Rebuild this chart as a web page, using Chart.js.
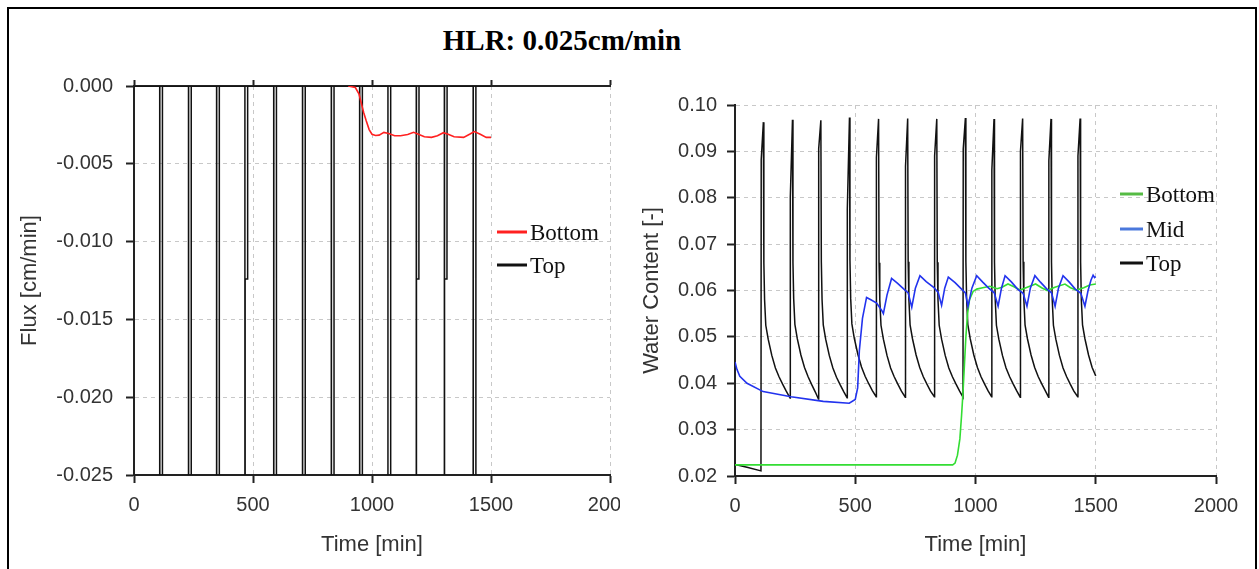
<!DOCTYPE html>
<html>
<head>
<meta charset="utf-8">
<script src="https://cdn.jsdelivr.net/npm/chart.js@4.4.1/dist/chart.umd.min.js"></script>
<style>
  body { margin: 0; background: #fff; }
  #frame { position: absolute; left: 7px; top: 7px; width: 1246px; height: 600px; border: 2px solid #000; }
  #title { position: absolute; left: 0; top: 26px; width: 1124px; text-align: center;
           font: bold 29px "Liberation Serif", "Times New Roman", serif; line-height: 29px; color: #000; }
  #fluxChart { position: absolute; left: 0; top: 0; }
  #wcChart { position: absolute; left: 620px; top: 0; }
</style>
</head>
<body>
<div id="frame"></div>
<div id="title">HLR: 0.025cm/min</div>
<canvas id="fluxChart" width="620" height="569"></canvas>
<canvas id="wcChart" width="639" height="569"></canvas>
<script>
// time [min] / value pairs
const fluxBottom = [
    [900, 0], [930, -0.0001], [945, -0.0005], [955, -0.0011], [965, -0.0017], [975, -0.0022],
    [988, -0.0028], [1000, -0.0031], [1015, -0.00318], [1030, -0.00316], [1050, -0.00298],
    [1070, -0.00305], [1095, -0.0032], [1120, -0.0032], [1150, -0.00312], [1175, -0.00298],
    [1195, -0.0031], [1220, -0.00326], [1250, -0.0033], [1275, -0.0032], [1300, -0.003],
    [1320, -0.0031], [1345, -0.00326], [1385, -0.0033], [1410, -0.0031], [1430, -0.00293],
    [1455, -0.0031], [1480, -0.0033], [1500, -0.0033]
];

const fluxTop = [
    [0, 0],
    [108, 0], [108.5, -0.27], [119, -0.27], [119.5, 0],
    [229, 0], [229.5, -0.27], [240, -0.27], [240.5, 0],
    [347, 0], [347.5, -0.27], [358, -0.27], [358.5, 0],
    [466, 0], [466.5, -0.27], [467, -0.0124], [477, -0.0124], [477.5, 0],
    [587, 0], [587.5, -0.27], [598, -0.27], [598.5, 0],
    [708, 0], [708.5, -0.27], [719, -0.27], [719.5, 0],
    [829, 0], [829.5, -0.27], [840, -0.27], [840.5, 0],
    [948, 0], [948.5, -0.27], [959, -0.27], [959.5, 0],
    [1067, 0], [1067.5, -0.27], [1078, -0.27], [1078.5, 0],
    [1186, 0], [1186.5, -0.27], [1187, -0.0124], [1197, -0.0124], [1197.5, 0],
    [1304, 0], [1304.5, -0.27], [1305, -0.0124], [1315, -0.0124], [1315.5, 0],
    [1425, 0], [1425.5, -0.27], [1436, -0.27], [1436.5, 0],
    [1500, 0]
];

const wcBottom = [
    [0, 0.0224], [300, 0.0224], [600, 0.0224], [905, 0.0224], [915, 0.0228], [925, 0.0245],
    [935, 0.028], [942, 0.033], [948, 0.038], [954, 0.044], [960, 0.05], [967, 0.055],
    [975, 0.058], [990, 0.0598], [1005, 0.0603], [1030, 0.0606], [1060, 0.0609], [1090, 0.0604],
    [1110, 0.0607], [1135, 0.0614], [1160, 0.0608], [1185, 0.0601], [1215, 0.0607], [1250, 0.0614],
    [1275, 0.0606], [1298, 0.06], [1330, 0.0607], [1372, 0.0614], [1395, 0.0606], [1420, 0.0601],
    [1450, 0.0606], [1475, 0.0612], [1500, 0.0614]
];

const wcMid = [
    [0, 0.0446], [8, 0.043], [20, 0.0415], [50, 0.04], [117, 0.0382], [233, 0.0371], [367, 0.0361],
    [475, 0.0357], [500, 0.0365], [510, 0.039], [517, 0.047], [530, 0.054], [547, 0.0585],
    [565, 0.058], [589, 0.0573], [610, 0.0557], [617, 0.055], [632, 0.059], [651, 0.0626],
    [675, 0.0616], [700, 0.0604], [720, 0.0595], [735, 0.0564], [750, 0.0605], [769, 0.0632],
    [795, 0.0619], [826, 0.0607], [845, 0.0596], [859, 0.0568], [872, 0.0605], [887, 0.0629],
    [915, 0.0617], [940, 0.0604], [958, 0.0595], [969, 0.0566], [985, 0.0605], [1005, 0.0632],
    [1030, 0.0618], [1055, 0.0605], [1078, 0.0595], [1094, 0.0566], [1108, 0.0605], [1123, 0.0632],
    [1150, 0.0618], [1175, 0.0603], [1198, 0.0594], [1214, 0.0566], [1228, 0.0605], [1247, 0.0632],
    [1270, 0.0618], [1295, 0.0604], [1316, 0.0595], [1331, 0.0566], [1345, 0.0605], [1364, 0.0632],
    [1390, 0.0618], [1415, 0.0603], [1438, 0.0594], [1455, 0.0566], [1468, 0.06], [1480, 0.0622],
    [1489, 0.0633], [1495, 0.0628], [1500, 0.063]
];

const wcTop = [
    [0, 0.0225], [50, 0.0219], [108, 0.0211],
    [109, 0.0882], [118, 0.0963], [120, 0.066], [123, 0.058], [128, 0.0525], [138, 0.0495],
    [153, 0.046], [168, 0.0433], [183, 0.0414], [198, 0.0398], [213, 0.0383],
    [229, 0.0368], [230, 0.0801], [239, 0.0968], [241, 0.066], [244, 0.0582], [249, 0.0527],
    [259, 0.0496], [274, 0.0461], [289, 0.0434], [304, 0.0414], [319, 0.0397], [334, 0.0381],
    [347, 0.0366], [348, 0.0906], [357, 0.0967], [359, 0.0662], [362, 0.058], [367, 0.0526],
    [377, 0.0495], [392, 0.046], [407, 0.0433], [422, 0.0413], [437, 0.0397], [452, 0.0382],
    [466, 0.0369], [467, 0.0775], [476, 0.0973], [478, 0.0665], [481, 0.0583], [486, 0.0528],
    [496, 0.0497], [511, 0.0462], [526, 0.0435], [541, 0.0415], [556, 0.0399], [571, 0.0384],
    [587, 0.0371], [588, 0.0887], [597, 0.097], [599, 0.066], [602, 0.058], [607, 0.0525],
    [617, 0.0495], [632, 0.046], [647, 0.0433], [662, 0.0414], [677, 0.0398], [692, 0.0383],
    [708, 0.037], [709, 0.0868], [718, 0.0971], [720, 0.0662], [723, 0.0581], [728, 0.0526],
    [738, 0.0496], [753, 0.0461], [768, 0.0434], [783, 0.0414], [798, 0.0398], [813, 0.0383],
    [829, 0.0371], [830, 0.089], [839, 0.097], [841, 0.0661], [844, 0.058], [849, 0.0525],
    [859, 0.0495], [874, 0.046], [889, 0.0433], [904, 0.0414], [919, 0.0398], [934, 0.0383],
    [948, 0.037], [949, 0.0905], [958, 0.0972], [960, 0.0663], [963, 0.0582], [968, 0.0527],
    [978, 0.0496], [993, 0.0461], [1008, 0.0434], [1023, 0.0414], [1038, 0.0398], [1053, 0.0383],
    [1067, 0.0371], [1068, 0.086], [1077, 0.097], [1079, 0.0661], [1082, 0.058], [1087, 0.0525],
    [1097, 0.0495], [1112, 0.046], [1127, 0.0433], [1142, 0.0414], [1157, 0.0398], [1172, 0.0383],
    [1186, 0.037], [1187, 0.09], [1196, 0.0971], [1198, 0.0662], [1201, 0.0581], [1206, 0.0526],
    [1216, 0.0496], [1231, 0.0461], [1246, 0.0434], [1261, 0.0414], [1276, 0.0398], [1291, 0.0383],
    [1304, 0.037], [1305, 0.088], [1314, 0.097], [1316, 0.0661], [1319, 0.058], [1324, 0.0525],
    [1334, 0.0495], [1349, 0.046], [1364, 0.0433], [1379, 0.0414], [1394, 0.0398], [1409, 0.0383],
    [1425, 0.0371], [1426, 0.089], [1435, 0.0971], [1437, 0.0662], [1440, 0.058], [1445, 0.0526],
    [1455, 0.0496], [1470, 0.0461], [1485, 0.0434], [1500, 0.0416]
];

const timeTicks = [0, 500, 1000, 1500, 2000];
const fluxTicks = [-0.025, -0.02, -0.015, -0.01, -0.005, 0];
const wcTicks = [0.02, 0.03, 0.04, 0.05, 0.06, 0.07, 0.08, 0.09, 0.1];

Chart.defaults.font.family = '"Liberation Sans", Arial, sans-serif';
Chart.defaults.color = '#333';

const toXY = (arr) => arr.map(p => ({x: p[0], y: p[1]}));

// legend drawn inside the plot, like the original
const innerLegend = {
    id: 'innerLegend',
    afterDraw(chart, args, opts) {
        const ctx = chart.ctx;
        ctx.save();
        ctx.font = '23px "Liberation Serif", "Times New Roman", serif';
        ctx.textBaseline = 'middle';
        ctx.fillStyle = '#111';
        opts.items.forEach(it => {
            const ds = chart.data.datasets[it.ds];
            ctx.strokeStyle = it.color;
            ctx.lineWidth = 3;
            ctx.beginPath();
            ctx.moveTo(opts.x, it.y);
            ctx.lineTo(opts.x + opts.len, it.y);
            ctx.stroke();
            ctx.fillText(ds.label, opts.x + opts.len + 3, it.y + 2);
        });
        ctx.restore();
    }
};

function axisLook(extra) {
    return Object.assign({
        type: 'linear',
        grid: { color: '#c8c8c8', lineWidth: 1, tickLength: 8, tickColor: '#222', tickWidth: 2 },
        border: { color: '#222', width: 2, dash: [4, 4] },
    }, extra);
}

const fluxConfig = {
    type: 'line',
    data: {
        datasets: [{
            label: 'Bottom',
            data: toXY(fluxBottom),
            borderColor: '#ff2020',
            borderWidth: 1.6
        }, {
            label: 'Top',
            data: toXY(fluxTop),
            borderColor: '#111',
            borderWidth: 1.5
        }]
    },
    options: {
        responsive: false,
        animation: false,
        elements: { point: { radius: 0 }, line: { tension: 0 } },
        layout: { padding: { left: 13, right: 10, top: 76, bottom: 7 } },
        plugins: {
            legend: { display: false },
            tooltip: { enabled: false },
            innerLegend: {
                x: 497, len: 30,
                items: [{ ds: 0, y: 232, color: '#ff2020' }, { ds: 1, y: 265, color: '#111' }]
            }
        },
        scales: {
            x: axisLook({
                min: 0, max: 2000,
                afterBuildTicks: s => { s.ticks = timeTicks.map(v => ({value: v})); },
                ticks: { font: { size: 20 }, padding: 10, maxRotation: 0, callback: v => String(v) },
                title: { display: true, text: 'Time [min]', font: { size: 22 }, color: '#333' },
                afterFit: s => { s.height = 87; s.paddingLeft = 0; s.paddingRight = 0; }
            }),
            x2: axisLook({
                position: 'top',
                min: 0, max: 2000,
                afterBuildTicks: s => { s.ticks = timeTicks.map(v => ({value: v})); },
                ticks: { display: false },
                grid: { drawOnChartArea: false, tickLength: 6, tickColor: '#222', tickWidth: 2 },
                afterFit: s => { s.height = 10; s.paddingLeft = 0; s.paddingRight = 0; }
            }),
            y: axisLook({
                min: -0.025, max: 0,
                afterBuildTicks: s => { s.ticks = fluxTicks.map(v => ({value: v})); },
                ticks: { font: { size: 20 }, padding: 13, callback: v => v.toFixed(3) },
                title: { display: true, text: 'Flux [cm/min]', font: { size: 22 }, color: '#333' },
                afterFit: s => { s.width = 121; }
            })
        }
    },
    plugins: [innerLegend]
};

const wcConfig = {
    type: 'line',
    data: {
        datasets: [{
            label: 'Mid',
            data: toXY(wcMid),
            borderColor: '#2233ee',
            borderWidth: 1.6
        }, {
            label: 'Bottom',
            data: toXY(wcBottom),
            borderColor: '#33dd33',
            borderWidth: 1.6
        }, {
            label: 'Top',
            data: toXY(wcTop),
            borderColor: '#111',
            borderWidth: 1.5
        }]
    },
    options: {
        responsive: false,
        animation: false,
        elements: { point: { radius: 0 }, line: { tension: 0 } },
        layout: { padding: { left: 15, right: 43, top: 105, bottom: 7 } },
        plugins: {
            legend: { display: false },
            tooltip: { enabled: false },
            innerLegend: {
                x: 500, len: 23,
                items: [
                    { ds: 1, y: 194, color: '#55bb44' },
                    { ds: 0, y: 229, color: '#4a78dc' },
                    { ds: 2, y: 263, color: '#111' }
                ]
            }
        },
        scales: {
            x: axisLook({
                min: 0, max: 2000,
                afterBuildTicks: s => { s.ticks = timeTicks.map(v => ({value: v})); },
                ticks: { font: { size: 20 }, padding: 10, maxRotation: 0, callback: v => String(v) },
                title: { display: true, text: 'Time [min]', font: { size: 22 }, color: '#333' },
                afterFit: s => { s.height = 86; s.paddingLeft = 0; s.paddingRight = 0; }
            }),
            y: axisLook({
                min: 0.02, max: 0.1,
                afterBuildTicks: s => { s.ticks = wcTicks.map(v => ({value: v})); },
                ticks: { font: { size: 20 }, padding: 10, callback: v => v.toFixed(2) },
                title: { display: true, text: 'Water Content [-]', font: { size: 22 }, color: '#333' },
                afterFit: s => { s.width = 100; }
            })
        }
    },
    plugins: [innerLegend]
};

const fluxChart = new Chart(document.getElementById('fluxChart'), fluxConfig);
const wcChart = new Chart(document.getElementById('wcChart'), wcConfig);
</script>
</body>
</html>
